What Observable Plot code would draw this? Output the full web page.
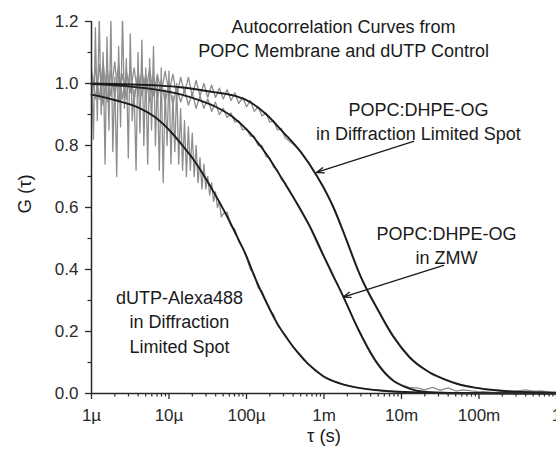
<!DOCTYPE html>
<html>
<head>
<meta charset="utf-8">
<script src="https://cdn.jsdelivr.net/npm/d3@7"></script>
<script src="https://cdn.jsdelivr.net/npm/@observablehq/plot@0.6"></script>
<style>
  html, body { margin: 0; padding: 0; background: #fff; overflow: hidden; }
  #chart { width: 556px; height: 458px; }
</style>
</head>
<body>
<div id="chart"></div>
<script>
// ---------- axis ticks ----------
const xMajor = [1e-6, 1e-5, 1e-4, 1e-3, 1e-2, 1e-1, 1];
const xMajorLabels = ["1µ", "10µ", "100µ", "1m", "10m", "100m", "1"];
const xMinorMultipliers = [2, 3, 4, 5, 6, 7, 8, 9];
const yMajor = [0, 0.2, 0.4, 0.6, 0.8, 1.0, 1.2];
const yMajorLabels = ["0.0", "0.2", "0.4", "0.6", "0.8", "1.0", "1.2"];
const yMinor = [0.1, 0.3, 0.5, 0.7, 0.9, 1.1];

// ---------- fitted curves (log10 tau, G) ----------
const fitDutpLogTau = [-6.000,-5.690,-5.394,-5.174,-4.968,-4.826,-4.684,-4.542,-4.400,-4.258,-4.129,-4.013,-3.884,-3.755,-3.626,-3.432,-3.213,-3.006,-2.787,-2.568,-2.232,-1.755,-1.110,0];
const fitDutpG = [0.964,0.946,0.922,0.89,0.842,0.80,0.755,0.70,0.64,0.575,0.51,0.45,0.37,0.30,0.236,0.162,0.097,0.055,0.032,0.019,0.009,0.003,0.0,0.0];

const fitZmwLogTau = [-6.000,-5.497,-5.110,-4.852,-4.594,-4.400,-4.181,-3.961,-3.742,-3.535,-3.329,-3.174,-3.006,-2.877,-2.748,-2.568,-2.348,-2.142,-1.897,-1.716,-1.368,0];
const fitZmwG = [0.998,0.99,0.978,0.965,0.945,0.925,0.893,0.842,0.772,0.69,0.605,0.535,0.445,0.378,0.311,0.212,0.11,0.048,0.016,0.006,0.002,0.0];

const fitDlLogTau = [-6.000,-5.110,-4.852,-4.426,-4.181,-4.013,-3.742,-3.535,-3.303,-3.088,-2.877,-2.748,-2.542,-2.323,-2.103,-1.897,-1.677,-1.458,-1.252,-1.032,-0.606,-0.168,0];
const fitDlG = [1.0,0.993,0.988,0.972,0.962,0.948,0.90,0.845,0.78,0.70,0.60,0.52,0.386,0.278,0.182,0.117,0.074,0.047,0.029,0.018,0.007,0.003,0.002];

// ---------- measured (gray) data ----------
const dataDutpLogTau = [-6.000,-5.975,-5.950,-5.925,-5.900,-5.875,-5.850,-5.825,-5.800,-5.775,-5.750,-5.725,-5.700,-5.675,-5.650,-5.625,-5.600,-5.575,-5.550,-5.525,-5.500,-5.475,-5.450,-5.425,-5.400,-5.375,-5.350,-5.325,-5.300,-5.275,-5.250,-5.225,-5.200,-5.175,-5.150,-5.125,-5.100,-5.075,-5.050,-5.025,-5.000,-4.975,-4.950,-4.925,-4.900,-4.875,-4.850,-4.825,-4.800,-4.775,-4.750,-4.725,-4.700,-4.675,-4.650,-4.625,-4.600,-4.575,-4.550,-4.525,-4.500,-4.475,-4.450,-4.425,-4.400,-4.375,-4.350,-4.325,-4.300,
  -4.25,-4.20,-4.15,-4.10,-4.05,-4.00,-3.95,-3.90,-3.85,-3.80,-3.75,-3.70,-3.65,-3.60,-3.50,-3.40,-3.30,-3.20,-3.10,-3.00,-2.90,-2.80,-2.60,-2.40,-2.20,-2.00,-1.80,-1.60,-1.40,-1.20,-1.00,-0.80,-0.60,-0.40,-0.20,0];
const dataDutpG = [1.05,0.82,1.18,0.88,1.22,0.90,1.10,0.74,1.15,0.85,1.21,0.78,1.02,0.70,1.12,0.86,1.22,0.92,1.08,0.76,1.16,0.88,0.98,0.72,1.10,0.84,1.14,0.80,1.05,0.74,1.08,0.85,1.12,0.80,1.02,0.72,1.05,0.68,0.98,0.80,1.04,0.74,0.96,0.78,1.00,0.74,0.92,0.72,0.88,0.70,0.86,0.72,0.84,0.70,0.80,0.68,0.76,0.66,0.74,0.66,0.70,0.64,0.68,0.62,0.65,0.60,0.62,0.57,0.58,
  0.585,0.54,0.53,0.49,0.47,0.44,0.40,0.385,0.34,0.33,0.30,0.27,0.255,0.22,0.19,0.15,0.125,0.095,0.075,0.055,0.043,0.033,0.02,0.013,0.008,0.006,0.004,0.002,0.003,0.0,0.002,0.0,0.001,0.0,0.002,0.0];

const dataZmwLogTau = [-6.00,-5.95,-5.90,-5.85,-5.80,-5.75,-5.70,-5.65,-5.60,-5.55,-5.50,-5.45,-5.40,-5.35,-5.30,-5.25,-5.20,-5.15,-5.10,-5.05,-5.00,-4.95,-4.90,-4.85,-4.80,-4.75,-4.70,-4.65,-4.60,-4.55,-4.50,-4.45,-4.40,-4.35,-4.30,-4.25,-4.20,-4.15,-4.10,-4.05,-4.00,-3.95,-3.90,-3.85,-3.80,-3.75,-3.70,-3.65,-3.60,-3.55,-3.50,
  -3.40,-3.30,-3.20,-3.10,-3.00,-2.90,-2.80,-2.70,-2.60,-2.50,-2.40,-2.30,-2.20,-2.10,-2.00,-1.90,-1.80,-1.70,-1.60,-1.50,-1.40,-1.30,-1.20,-1.00,-0.80,-0.60,-0.40,-0.20,0];
const dataZmwG = [1.04,0.95,1.06,0.93,1.05,0.96,1.07,0.94,1.03,0.95,1.05,0.94,1.04,0.96,1.03,0.94,1.02,0.95,1.01,0.94,1.00,0.93,0.99,0.94,0.98,0.93,0.97,0.92,0.96,0.92,0.95,0.91,0.94,0.90,0.92,0.89,0.905,0.875,0.88,0.85,0.855,0.83,0.83,0.80,0.80,0.765,0.76,0.73,0.72,0.69,0.68,
  0.635,0.59,0.545,0.49,0.44,0.385,0.338,0.285,0.23,0.18,0.134,0.096,0.065,0.042,0.028,0.02,0.018,0.012,0.02,0.01,0.018,0.008,0.012,0.005,0.01,0.004,0.012,0.003,0.005];

const dataDlLogTau = [-6.00,-5.95,-5.90,-5.85,-5.80,-5.75,-5.70,-5.65,-5.60,-5.55,-5.50,-5.45,-5.40,-5.35,-5.30,-5.25,-5.20,-5.15,-5.10,-5.05,-5.00,-4.95,-4.90,-4.85,-4.80,-4.75,-4.70,-4.65,-4.60,-4.55,-4.50,-4.45,-4.40,-4.35,-4.30,-4.25,-4.20,-4.15,-4.10,-4.05,-4.00,-3.95,-3.90,-3.85,-3.80,-3.75,-3.70,-3.65,-3.60,-3.55,-3.50,
  -3.40,-3.30,-3.20,-3.10,-3.00,-2.90,-2.80,-2.70,-2.60,-2.50,-2.40,-2.30,-2.20,-2.10,-2.00,-1.90,-1.80,-1.70,-1.60,-1.50,-1.40,-1.30,-1.20,-1.10,-1.00,-0.80,-0.60,-0.40,-0.20,0];
const dataDlG = [0.96,1.05,0.95,1.07,0.94,1.04,0.96,1.06,0.95,1.04,0.97,1.05,0.96,1.04,0.97,1.05,0.96,1.03,0.97,1.04,0.97,1.03,0.96,1.02,0.97,1.02,0.96,1.01,0.96,1.00,0.955,0.995,0.955,0.985,0.95,0.98,0.945,0.97,0.935,0.955,0.925,0.945,0.91,0.925,0.895,0.905,0.875,0.88,0.85,0.855,0.825,
  0.805,0.78,0.745,0.705,0.665,0.61,0.555,0.49,0.425,0.36,0.31,0.27,0.225,0.185,0.15,0.12,0.095,0.078,0.06,0.05,0.04,0.032,0.026,0.02,0.018,0.01,0.008,0.006,0.008,0.002];

// ---------- annotations ----------
const titleText = "Autocorrelation Curves from\nPOPC Membrane and dUTP Control";
const titlePos = [-2.748, 1.149];
const labelDl = "POPC:DHPE-OG\nin Diffraction Limited Spot";
const labelDlPos = [-1.781, 0.881];
const labelZmw = "POPC:DHPE-OG\nin ZMW";
const labelZmwPos = [-1.419, 0.481];
const labelDutp = "dUTP-Alexa488\nin Diffraction\nLimited Spot";
const labelDutpPos = [-4.865, 0.235];
const arrowDl = [-1.845, 0.813, -3.097, 0.713];
const arrowZmw = [-1.458, 0.413, -2.752, 0.311];
const xLabel = "τ (s)";
const yLabel = "G (τ)";

// ---------- build ----------
const toRows = (lt, g) => lt.map((t, i) => ({tau: Math.pow(10, t), g: g[i]}));
const xMinor = xMajor.slice(0, -1).flatMap(d => xMinorMultipliers.map(m => d * m));
const FONT = "'Liberation Sans', Arial, Helvetica, sans-serif";
const AX = "#2a2a2a";
const GRAY = "#8d8d8d";
const FIT = "#1c1c1c";

const textMark = (str, pos, lh) => Plot.text([{x: Math.pow(10, pos[0]), y: pos[1], t: str}], {
  x: "x", y: "y", text: "t", textAnchor: "middle", lineAnchor: "middle",
  lineHeight: lh, fontSize: 18, fill: "#1a1a1a", letterSpacing: 0.3
});
const arrowMark = (a) => Plot.arrow([{x1: Math.pow(10, a[0]), y1: a[1], x2: Math.pow(10, a[2]), y2: a[3]}], {
  x1: "x1", y1: "y1", x2: "x2", y2: "y2", stroke: "#1a1a1a", strokeWidth: 1.3, headLength: 9, headAngle: 40
});

const chart = Plot.plot({
  width: 556,
  height: 458,
  marginLeft: 91,
  marginRight: 0,
  marginTop: 21,
  marginBottom: 65,
  style: {fontFamily: FONT, fontSize: "17px", color: AX, background: "#fff"},
  x: {type: "log", domain: [1e-6, 1]},
  y: {domain: [0, 1.2]},
  marks: [
    Plot.line(toRows(dataDutpLogTau, dataDutpG), {x: "tau", y: "g", stroke: GRAY, strokeWidth: 1.3, clip: true}),
    Plot.line(toRows(dataZmwLogTau, dataZmwG), {x: "tau", y: "g", stroke: GRAY, strokeWidth: 1.3, clip: true}),
    Plot.line(toRows(dataDlLogTau, dataDlG), {x: "tau", y: "g", stroke: GRAY, strokeWidth: 1.3, clip: true}),
    Plot.line(toRows(fitDutpLogTau, fitDutpG), {x: "tau", y: "g", stroke: FIT, strokeWidth: 1.9, curve: "monotone-x"}),
    Plot.line(toRows(fitZmwLogTau, fitZmwG), {x: "tau", y: "g", stroke: FIT, strokeWidth: 1.9, curve: "monotone-x"}),
    Plot.line(toRows(fitDlLogTau, fitDlG), {x: "tau", y: "g", stroke: FIT, strokeWidth: 1.9, curve: "monotone-x"}),
    Plot.ruleY([0], {stroke: AX, strokeWidth: 1.5}),
    Plot.ruleX([1e-6], {stroke: AX, strokeWidth: 1.5}),
    Plot.axisX(xMajor, {tickSize: 6, tickPadding: 9, tickFormat: d => xMajorLabels[xMajor.indexOf(d)], label: null, fontSize: 17, strokeWidth: 1.3}),
    Plot.axisX(xMinor, {tickSize: 3.5, tickFormat: () => "", label: null, strokeWidth: 1.2}),
    Plot.axisY(yMajor, {tickSize: 6, tickPadding: 7, tickFormat: d => yMajorLabels[yMajor.indexOf(d)], label: null, fontSize: 17, strokeWidth: 1.3}),
    Plot.axisY(yMinor, {tickSize: 3.5, tickFormat: () => "", label: null, strokeWidth: 1.2}),
    textMark(titleText, titlePos, 1.31),
    textMark(labelDl, labelDlPos, 1.33),
    textMark(labelZmw, labelZmwPos, 1.31),
    textMark(labelDutp, labelDutpPos, 1.36),
    arrowMark(arrowDl),
    arrowMark(arrowZmw),
    Plot.text([xLabel], {frameAnchor: "bottom", dx: 0, dy: 48, fontSize: 18.5, fill: "#1a1a1a", letterSpacing: 0.5}),
    Plot.text([yLabel], {frameAnchor: "left", dx: -66, dy: 6, rotate: -90, fontSize: 18.5, fill: "#1a1a1a", letterSpacing: 0.5})
  ]
});
document.getElementById("chart").appendChild(chart);
</script>
</body>
</html>
